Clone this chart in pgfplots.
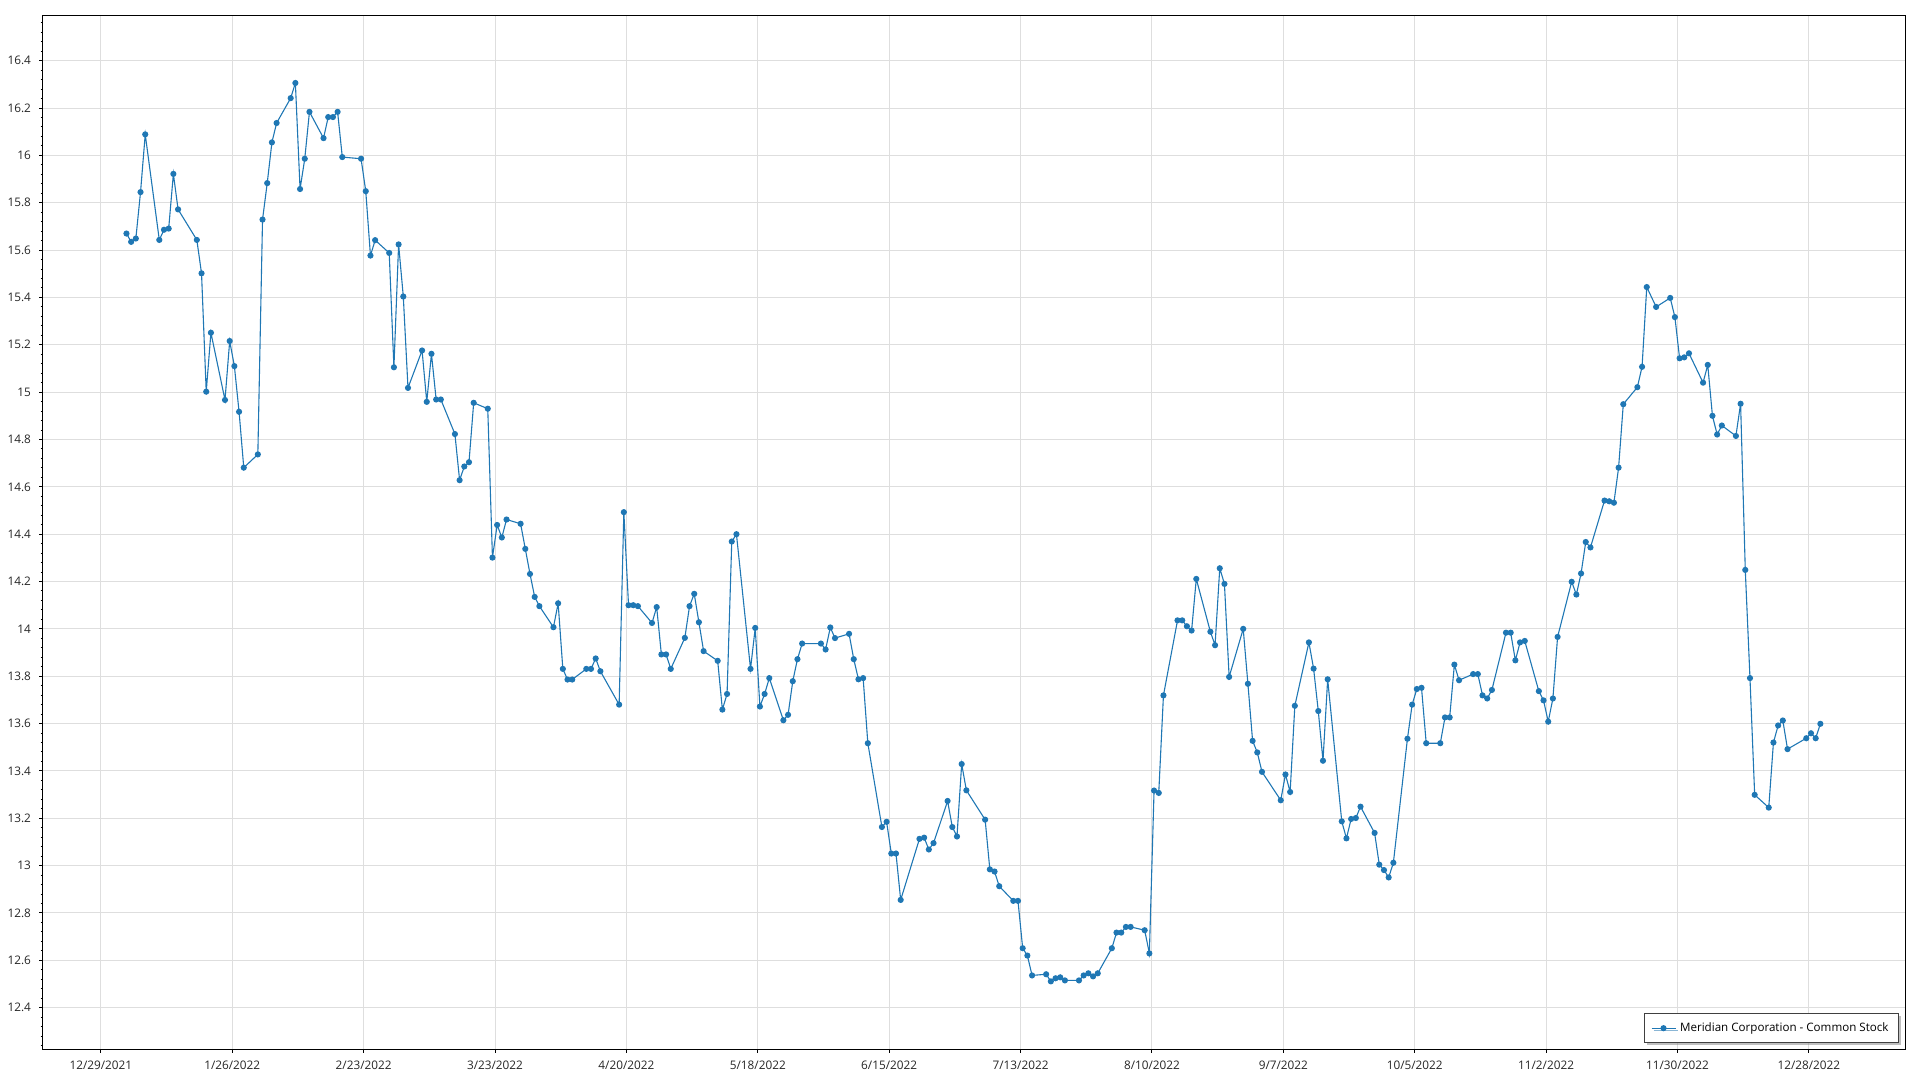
\documentclass[border=0pt]{standalone}
\usepackage{pgfplots}
\usepackage{pgfplotstable}
\pgfplotsset{compat=1.18}
\usepackage{fontspec}
\setmainfont{Open Sans}
\usetikzlibrary{shadows}
\definecolor{series}{RGB}{31,119,180}
\definecolor{gridc}{RGB}{222,222,222}

\pgfplotstableread{
d v
5 15.670
6 15.635
7 15.649
8 15.845
9 16.089
12 15.643
13 15.686
14 15.691
15 15.922
16 15.772
20 15.643
21 15.502
22 15.002
23 15.251
26 14.967
27 15.216
28 15.110
29 14.917
30 14.681
33 14.737
34 15.729
35 15.883
36 16.055
37 16.137
40 16.242
41 16.306
42 15.858
43 15.986
44 16.184
47 16.073
48 16.162
49 16.162
50 16.184
51 15.993
55 15.986
56 15.849
57 15.577
58 15.642
61 15.588
62 15.105
63 15.624
64 15.404
65 15.018
68 15.176
69 14.959
70 15.162
71 14.969
72 14.969
75 14.823
76 14.628
77 14.686
78 14.704
79 14.955
82 14.930
83 14.301
84 14.439
85 14.386
86 14.462
89 14.444
90 14.338
91 14.232
92 14.135
93 14.096
96 14.007
97 14.108
98 13.831
99 13.786
100 13.786
103 13.831
104 13.831
105 13.875
106 13.821
110 13.680
111 14.493
112 14.100
113 14.100
114 14.096
117 14.025
118 14.092
119 13.892
120 13.892
121 13.831
124 13.962
125 14.096
126 14.148
127 14.028
128 13.906
131 13.865
132 13.659
133 13.725
134 14.369
135 14.400
138 13.831
139 14.004
140 13.672
141 13.725
142 13.792
145 13.614
146 13.637
147 13.779
148 13.872
149 13.938
153 13.938
154 13.913
155 14.006
156 13.961
159 13.979
160 13.872
161 13.787
162 13.792
163 13.517
166 13.163
167 13.185
168 13.051
169 13.051
170 12.855
174 13.113
175 13.118
176 13.068
177 13.095
180 13.273
181 13.163
182 13.123
183 13.429
184 13.318
188 13.194
189 12.984
190 12.975
191 12.913
194 12.851
195 12.851
196 12.651
197 12.620
198 12.536
201 12.541
202 12.511
203 12.524
204 12.528
205 12.515
208 12.515
209 12.536
210 12.545
211 12.532
212 12.545
215 12.651
216 12.717
217 12.717
218 12.741
219 12.741
222 12.727
223 12.629
224 13.317
225 13.307
226 13.719
229 14.036
230 14.036
231 14.011
232 13.993
233 14.211
236 13.988
237 13.931
238 14.256
239 14.190
240 13.797
243 14.000
244 13.768
245 13.527
246 13.478
247 13.396
251 13.276
252 13.385
253 13.311
254 13.675
257 13.943
258 13.832
259 13.653
260 13.443
261 13.787
264 13.187
265 13.115
266 13.197
267 13.201
268 13.249
271 13.138
272 13.004
273 12.981
274 12.950
275 13.012
278 13.536
279 13.680
280 13.746
281 13.751
282 13.517
285 13.517
286 13.626
287 13.626
288 13.849
289 13.783
292 13.809
293 13.809
294 13.719
295 13.706
296 13.742
299 13.984
300 13.984
301 13.867
302 13.943
303 13.949
306 13.737
307 13.698
308 13.608
309 13.706
310 13.966
313 14.199
314 14.145
315 14.234
316 14.367
317 14.344
320 14.542
321 14.539
322 14.533
323 14.681
324 14.949
327 15.021
328 15.107
329 15.444
331 15.360
334 15.398
335 15.317
336 15.143
337 15.147
338 15.164
341 15.040
342 15.115
343 14.900
344 14.821
345 14.859
348 14.815
349 14.951
350 14.249
351 13.792
352 13.299
355 13.245
356 13.520
357 13.592
358 13.613
359 13.492
363 13.538
364 13.559
365 13.538
366 13.599
}\stockdata

\begin{document}
\begin{tikzpicture}
\begin{axis}[
  at={(21.35pt,15.35pt)}, anchor=south west,
  width=931.4pt, height=517pt, scale only axis,
  xmin=-12.85, xmax=384.15, ymin=12.224, ymax=16.592,
  xtick={-0.45,27.55,55.55,83.55,111.55,139.55,167.55,195.55,223.55,251.55,279.55,307.55,335.55,363.55},
  xticklabels={12/29/2021,1/26/2022,2/23/2022,3/23/2022,4/20/2022,5/18/2022,6/15/2022,7/13/2022,8/10/2022,9/7/2022,10/5/2022,11/2/2022,11/30/2022,12/28/2022},
  ytick={12.4,12.6,12.8,13,13.2,13.4,13.6,13.8,14,14.2,14.4,14.6,14.8,15,15.2,15.4,15.6,15.8,16,16.2,16.4},
  minor ytick={12.24,12.28,...,16.58},
  tick align=outside,
  xtick pos=left, ytick pos=left,
  major tick length=1.75pt, minor tick length=1pt,
  every tick/.style={black, line width=0.5pt},
  grid=major,
  major grid style={gridc, line width=0.5pt},
  axis line style={black, line width=0.7pt},
  tick label style={font=\fontsize{5.9}{6.5}\selectfont, text=black!85},
  /pgf/number format/assume math mode=true,
  xticklabel style={yshift=-0.4pt},
  yticklabel style={xshift=-0.6pt},
  legend style={at={(1,0)}, anchor=south east, xshift=-3.25pt, yshift=3.15pt,
    draw=black!75, line width=0.5pt, fill=white,
    drop shadow={shadow xshift=1.2pt, shadow yshift=-1.2pt, fill=black!50},
    font=\fontsize{5.8}{6.5}\selectfont, inner xsep=3pt, inner ysep=2.2pt},
  legend cell align=left,
  legend image code/.code={\draw[mark repeat=2,mark phase=2,#1] plot coordinates {(0pt,0pt) (6pt,0pt) (12pt,0pt)};},
]
\addplot[series, line width=0.55pt, mark=*, mark size=1.25pt, mark options={fill=series, draw=series}] table[x=d, y=v] {\stockdata};
\addlegendentry{Meridian Corporation - Common Stock}
\end{axis}
\pgfresetboundingbox
\path (0,0) rectangle (960pt,540pt);
\end{tikzpicture}
\end{document}
